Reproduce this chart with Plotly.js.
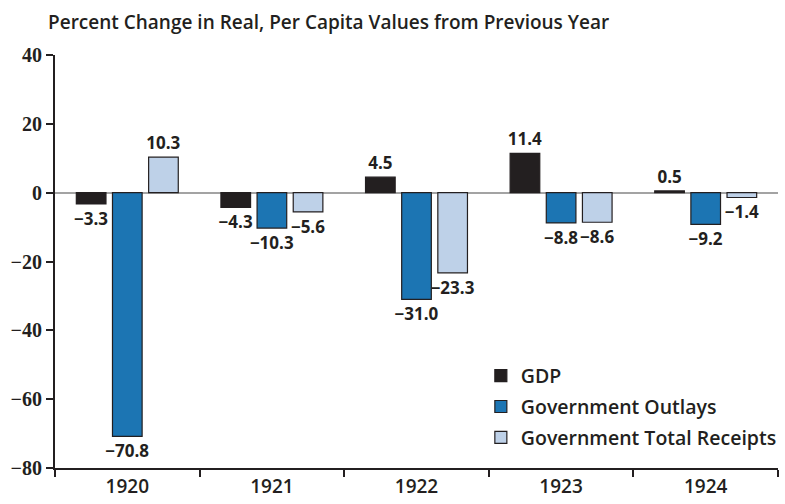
<!DOCTYPE html>
<html>
<head>
<meta charset="utf-8">
<script src="https://cdn.plot.ly/plotly-3.0.1.min.js"></script>
<style>html,body{margin:0;padding:0;background:#fff;}#chart{width:785px;height:504px;}</style>
</head>
<body>
<div id="chart"></div>
<script>
const years = ['1920', '1921', '1922', '1923', '1924'];
const gdp = [-3.3, -4.3, 4.5, 11.4, 0.5];
const outlays = [-70.8, -10.3, -31.0, -8.8, -9.2];
const receipts = [10.3, -5.6, -23.3, -8.6, -1.4];
const seriesNames = ['GDP', 'Government Outlays', 'Government Total Receipts'];
const yTicks = [-80, -60, -40, -20, 0, 20, 40];

const fmt = v => v.toFixed(1).replace('-', '\u2212');
const labelFont = {family: 'Open Sans, sans-serif', size: 17, color: '#231f20', weight: 700};

function mk(name, vals, color, grp) {
  return {
    type: 'bar', name: name, x: years, y: vals, legendgroup: grp,
    text: vals.map(fmt), textposition: 'outside', cliponaxis: false,
    constraintext: 'none', textangle: 0,
    textfont: labelFont,
    marker: {color: color, line: {color: '#231f20', width: 1.2}},
    hoverinfo: 'skip'
  };
}

const data = [
  mk(seriesNames[0], gdp, '#231f20', 'g0'),
  mk(seriesNames[1], outlays, '#1c75b3', 'g1'),
  mk(seriesNames[2], receipts, '#bed1e8', 'g2')
];

const layout = {
  width: 785, height: 504,
  margin: {l: 55, r: 3, t: 55, b: 36},
  paper_bgcolor: '#fff', plot_bgcolor: '#fff',
  barmode: 'group', bargap: 0.25, bargroupgap: 0.18,
  showlegend: true,
  title: {
    text: 'Percent Change in Real, Per Capita Values from Previous Year',
    xref: 'container', x: 48 / 785, xanchor: 'left', yref: 'container', y: 1 - 22 / 504, yanchor: 'middle',
    font: {family: 'Open Sans, sans-serif', size: 19, color: '#231f20', weight: 600}
  },
  xaxis: {
    type: 'category', showgrid: false, zeroline: false,
    showline: true, linecolor: '#231f20', linewidth: 2,
    ticks: 'outside', tickson: 'boundaries', ticklen: 7, tickwidth: 2, tickcolor: '#231f20',
    tickfont: {family: 'Open Sans, sans-serif', size: 19, color: '#231f20', weight: 600},
    fixedrange: true
  },
  yaxis: {
    range: [-80, 40], tickvals: yTicks, showgrid: false,
    zeroline: true, zerolinecolor: '#a3a3a3', zerolinewidth: 2,
    showline: true, linecolor: '#231f20', linewidth: 2,
    ticks: 'outside', ticklen: 7, tickwidth: 2, tickcolor: '#231f20',
    tickfont: {family: 'Liberation Serif, serif', size: 20, color: '#231f20', weight: 700},
    fixedrange: true
  },
  legend: {
    x: 0.589, xanchor: 'left', y: 0.27, yanchor: 'top',
    bgcolor: 'rgba(0,0,0,0)', borderwidth: 0,
    font: {family: 'Open Sans, sans-serif', size: 19.5, color: '#231f20', weight: 600},
    tracegroupgap: 2.5
  }
};

Plotly.newPlot('chart', data, layout, {displayModeBar: false, staticPlot: true});
</script>
</body>
</html>
